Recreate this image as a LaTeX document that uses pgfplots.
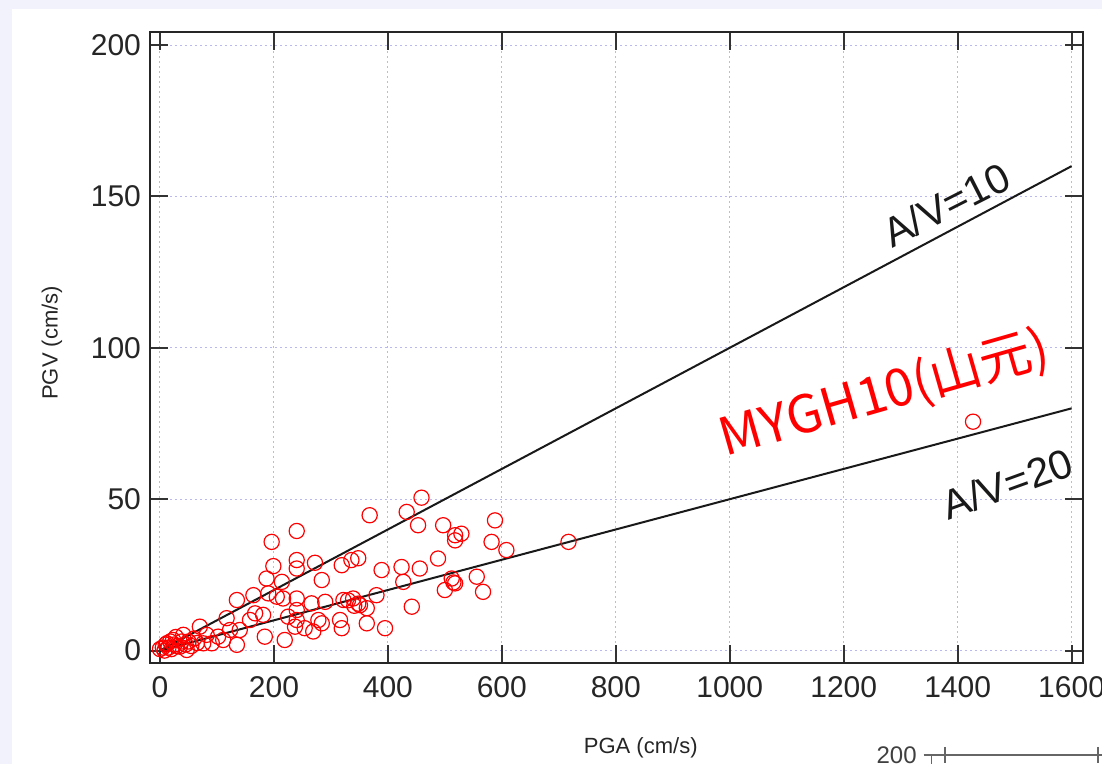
\documentclass[border=0pt]{standalone}
\usepackage{pgfplots}
\pgfplotsset{compat=1.18}
\usepackage{fontspec}
\setmainfont{Liberation Sans}
\newfontfamily\cjk{Noto Sans CJK JP}
\definecolor{frame}{RGB}{242,242,252}
\definecolor{gridc}{RGB}{185,185,240}

% PGA, PGV of the MYGH10 records
\pgfplotstableread{
pga pgv
0 0.5
5 1
8 0
10 2
12 2.4
15 1
18 3
20 0.5
23 3.5
25 2
28 4.5
30 1.5
35 1.3
38 3
41 5.2
45 2
47 0.2
50 3
55 1.5
60 4
65 2.5
70 7.9
76 2.4
82 5.2
91 2.4
102 4.6
111 3.5
117 10.7
123 6.8
135 1.9
135 16.7
140 6.8
158 10.1
164 18.3
167 12.3
181 11.8
184 4.6
187 23.8
190 18.9
196 35.9
199 27.9
205 17.8
214 22.7
216 17.2
219 3.5
225 11.2
237 7.9
240 39.5
240 29.9
240 27.1
240 17.2
240 13.4
240 10.1
254 7.4
266 15.6
269 6.3
272 29.0
278 10.1
284 23.3
284 9.0
290 16.1
316 10.1
319 28.2
319 7.4
322 16.7
330 16.6
336 29.9
339 17.2
341 14.8
348 30.5
348 15.5
351 15.0
363 14.0
363 9.0
368 44.7
380 18.3
389 26.6
395 7.4
424 27.6
427 22.7
433 45.8
442 14.5
453 41.4
456 27.1
459 50.5
488 30.4
497 41.4
500 20.0
512 23.8
515 22.5
518 22.2
518 38.1
518 36.4
529 38.6
556 24.4
567 19.4
582 35.9
588 43.0
608 33.2
717 35.9
1427 75.6
}\records

\begin{document}
\begin{tikzpicture}
% screenshot frame; the main axis box starts at (0,0)
\fill[frame] (-75pt,-50.65pt) rectangle (476pt,331.35pt);
\fill[white] (-69pt,-50.65pt) rectangle (476pt,326.85pt);
\useasboundingbox (-75pt,-50.65pt) rectangle (476pt,331.35pt);
\begin{axis}[
    anchor=south west,
    scale only axis,
    width=466.5pt, height=315.35pt,
    xmin=-17.5, xmax=1620, ymin=-4, ymax=204.3,
    xtick={0,200,...,1600}, ytick={0,50,...,200},
    tick align=inside, xtick pos=both, ytick pos=both,
    major tick length=9pt,
    grid=major,
    major grid style={gridc, line width=0.5pt, dash pattern=on 1pt off 1.5pt},
    axis line style={black!85, line width=1.1pt},
    tick style={black!80, line width=1pt},
    ticklabel style={font=\fontsize{15}{17}\selectfont, text=black!85},
    /pgf/number format/assume math mode=true,
    /pgf/number format/1000 sep={},
    xticklabel style={yshift=-3.2pt},
    yticklabel style={xshift=-1pt},
    xlabel={PGA (cm/s)}, ylabel={PGV (cm/s)},
    label style={font=\fontsize{11}{13}\selectfont, text=black!85},
    xlabel style={at={(axis description cs:0.526,-0.135)}, anchor=center},
    ylabel style={at={(axis description cs:-0.105,0.507)}, anchor=center},
]
\addplot[only marks, mark=o, mark size=3.8pt, mark options={red, line width=0.6pt}]
    table[x=pga, y=pgv] {\records};
\addplot[black!90, line width=1pt] coordinates {(0,0) (1600,160)};
\addplot[black!90, line width=1pt] coordinates {(0,0) (1600,80)};
\node[rotate=27, text=black!90, font=\fontsize{20.5}{24}\selectfont] at (axis cs:1380,147.3) {A/V=10};
\node[rotate=20, text=black!90, font=\fontsize{20.5}{24}\selectfont] at (axis cs:1487,55.1) {A/V=20};
\node[rotate=16, red, font=\cjk\fontsize{26}{30}\selectfont] at (axis cs:1272,84.6) {MYGH10(山元)};
\end{axis}
% top edge of the next panel, cut off by the screenshot
\begin{axis}[
    at={(390.85pt,-46.15pt)}, anchor=north west,
    scale only axis,
    width=626pt, height=200pt,
    xmin=-17.5, xmax=1620, ymin=0, ymax=200,
    xtick={0,200}, ytick={200}, xticklabels={},
    tick align=center, xtick pos=upper, ytick pos=left,
    major tick length=8pt,
    axis line style={black!60, line width=0.7pt},
    tick style={black!60, line width=0.7pt},
    ticklabel style={font=\fontsize{12}{14}\selectfont, text=black!75},
    /pgf/number format/assume math mode=true,
]
\end{axis}
\end{tikzpicture}
\end{document}
